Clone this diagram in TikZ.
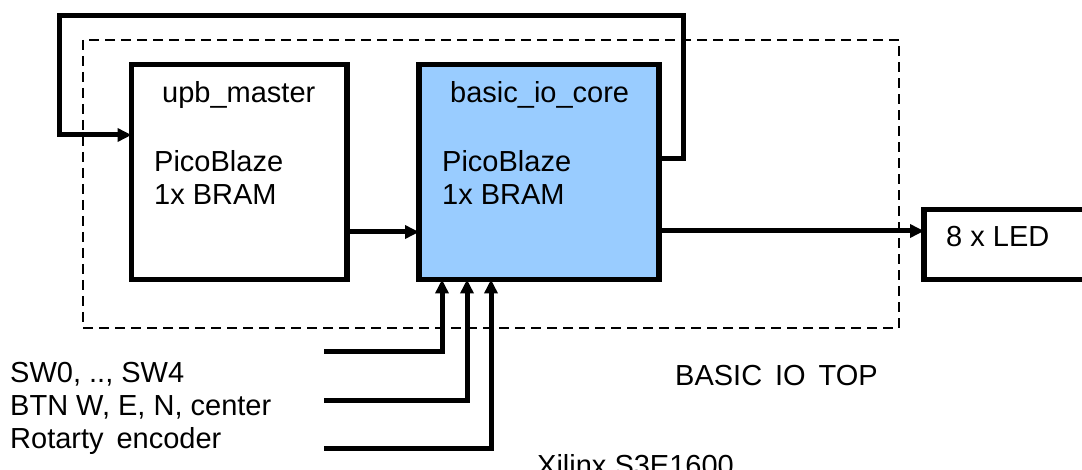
\documentclass[tikz,border=0pt]{standalone}
\usepackage{fontspec}
\setmainfont{Liberation Sans}
\usetikzlibrary{arrows.meta}
\definecolor{coreblue}{HTML}{99CCFF}
\begin{document}
\begin{tikzpicture}[x=1pt,y=-1pt,
  every node/.style={font=\fontsize{29}{33}\selectfont},
  blk/.style={draw, line width=5.5pt, inner sep=0pt, outer sep=0pt},
  dashbox/.style={draw, line width=2.5pt, dash pattern=on 10pt off 6pt, inner sep=0pt},
  lbl/.style={inner sep=0pt, anchor=base west},
  arr/.style={line width=5pt, -{Triangle[length=14pt,width=13pt]}}
]
\useasboundingbox (0,0) rectangle (1082,470);
% dashed container
\node[dashbox, minimum width=816pt, minimum height=288pt] (top) at (491,184) {};
% blocks
\node[blk, fill=white, minimum width=215.5pt, minimum height=215pt] (upb) at (239.25,172) {};
\node[blk, fill=coreblue, minimum width=240pt, minimum height=215pt] (core) at (539,172) {};
\node[blk, fill=white, minimum width=180pt, minimum height=70pt] (led) at (1014,244.5) {};
% texts
\node[lbl] (t1) at (162,103) {upb\_master};
\node[lbl] (t2) at (154,172) {PicoBlaze};
\node[lbl] (t3) at (154,205) {1x BRAM};
\node[lbl] (t4) at (450,103) {basic\_io\_core};
\node[lbl] (t5) at (442,172) {PicoBlaze};
\node[lbl] (t6) at (442,205) {1x BRAM};
\node[lbl] (t7) at (946,247) {8 x LED};
\node[lbl] (t8) at (10,382) {SW0, .., SW4};
\node[lbl] (t9) at (10,415) {BTN W, E, N, center};
\node[lbl] (t10) at (10,448) {Rotarty\, encoder};
\node[lbl] (t11) at (675,385) {BASIC\, IO\, TOP};
\node[lbl] (t12) at (537,475) {Xilinx S3E1600};
% coordinates
\coordinate (fbA) at (683,159);
\coordinate (fbB) at (683,16);
\coordinate (fbC) at (59,16);
\coordinate (fbD) at (59,135);
\coordinate (in1) at (324,352);
\coordinate (in2) at (324,400);
\coordinate (in3) at (324,448);
% connectors
\draw[arr] (upb.east |- 0,232) -- (core.west |- 0,232);
\draw[arr] (core.east |- 0,231) -- (led.west |- 0,231);
\draw[arr, line join=miter] (core.east |- fbA) -- (fbA) -- (fbB) -- (fbC) -- (fbD) -- (upb.west |- fbD);
\draw[arr, line join=miter] (in1) -| (core.south -| 442,0);
\draw[arr, line join=miter] (in2) -| (core.south -| 467,0);
\draw[arr, line join=miter] (in3) -| (core.south -| 491,0);
\end{tikzpicture}
\end{document}
